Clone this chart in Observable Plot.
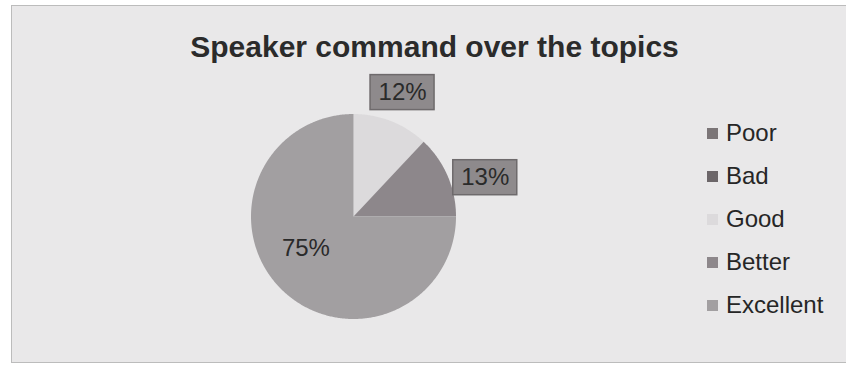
<!DOCTYPE html>
<html>
<head>
<meta charset="utf-8">
<script src="https://cdn.jsdelivr.net/npm/d3@7"></script>
<script src="https://cdn.jsdelivr.net/npm/@observablehq/plot@0.6"></script>
<style>
  html, body { margin: 0; padding: 0; background: #ffffff; }
  #wrap { position: relative; width: 846px; height: 367px; overflow: hidden; background: #ffffff;
          font-family: "Liberation Sans", Arial, Helvetica, sans-serif; }
  #frame { position: absolute; left: 11px; top: 5px; width: 840px; height: 358px;
           background: #e9e8e9; border: 1px solid #bcbcbc; box-sizing: border-box; }
  #chart { position: absolute; left: 0; top: 0; }
  #legend { position: absolute; left: 707px; top: 0; }
  .item { position: absolute; left: 0; display: flex; align-items: center; white-space: nowrap;
          font-size: 24px; color: #262626; height: 30px; }
  .sw { width: 11px; height: 11px; margin-right: 8px; }
</style>
</head>
<body>
<div id="wrap">
  <div id="frame"></div>
  <div id="chart"></div>
  <div id="legend"></div>
</div>
<script>
// ---- data ----
const title = "Speaker command over the topics";
const categories = ["Poor", "Bad", "Good", "Better", "Excellent"];
const percents = [0, 0, 12, 13, 75];
const colors = ["#7b7577", "#6c6669", "#dcdadc", "#8d878b", "#a29fa1"];

// ---- layout / style options ----
const W = 846, H = 367;
const cx = 353, cy = 216, R = 102.5;
const labelOpts = {
  Good: {r: 1.30, da: 0, box: true},
  Better: {r: 1.34, da: 7, box: true},
  Excellent: {r: 0.56, da: 11, box: false}
};
const boxW = 64 / R, boxH = 35 / R;

const data = categories.map((name, i) => ({name, value: percents[i]}));
const arcs = d3.pie().sort(null).value(d => d.value)(data);

// slice polygons in unit-circle coordinates (angle 0 at top, clockwise)
const slicePts = [];
arcs.filter(a => a.data.value > 0).forEach(a => {
  const n = Math.max(2, Math.ceil((a.endAngle - a.startAngle) / 0.01));
  slicePts.push({name: a.data.name, x: 0, y: 0});
  for (let k = 0; k <= n; k++) {
    const t = a.startAngle + (a.endAngle - a.startAngle) * k / n;
    slicePts.push({name: a.data.name, x: Math.sin(t), y: Math.cos(t)});
  }
});

const labels = arcs.filter(a => a.data.value > 0).map(a => {
  const o = labelOpts[a.data.name];
  const m = (a.startAngle + a.endAngle) / 2 + o.da * Math.PI / 180;
  return {name: a.data.name, text: a.data.value + "%", box: o.box,
          x: o.r * Math.sin(m), y: o.r * Math.cos(m)};
});

const chart = Plot.plot({
  width: W, height: H,
  margin: 0,
  style: {background: "transparent", fontFamily: "Liberation Sans, Arial, sans-serif"},
  x: {domain: [-1, 1], range: [cx - R, cx + R], axis: null},
  y: {domain: [-1, 1], range: [cy + R, cy - R], axis: null},
  color: {domain: categories, range: colors},
  marks: [
    Plot.line(slicePts, {x: "x", y: "y", z: "name", fill: "name", stroke: "none", curve: "linear-closed"}),
    Plot.rect(labels.filter(d => d.box), {
      x1: d => d.x - boxW / 2, x2: d => d.x + boxW / 2,
      y1: d => d.y - boxH / 2, y2: d => d.y + boxH / 2,
      fill: "#8e8a8c", stroke: "#6e6a6c", strokeWidth: 1.5
    }),
    Plot.text(labels, {x: "x", y: "y", text: "text", fontSize: 24, fill: "#2a2a2a", lineAnchor: "middle"}),
    Plot.text([title], {frameAnchor: "top", dx: 11, dy: 47, lineAnchor: "middle",
                        fontSize: 30, fontWeight: "bold", fill: "#2b2b2b"})
  ]
});
document.getElementById("chart").appendChild(chart);

// legend
const leg = document.getElementById("legend");
categories.forEach((name, i) => {
  const item = document.createElement("div");
  item.className = "item";
  item.style.top = (133 + i * 43 - 15) + "px";
  const sw = document.createElement("span");
  sw.className = "sw";
  sw.style.background = colors[i];
  const tx = document.createElement("span");
  tx.textContent = name;
  item.appendChild(sw);
  item.appendChild(tx);
  leg.appendChild(item);
});
</script>
</body>
</html>
